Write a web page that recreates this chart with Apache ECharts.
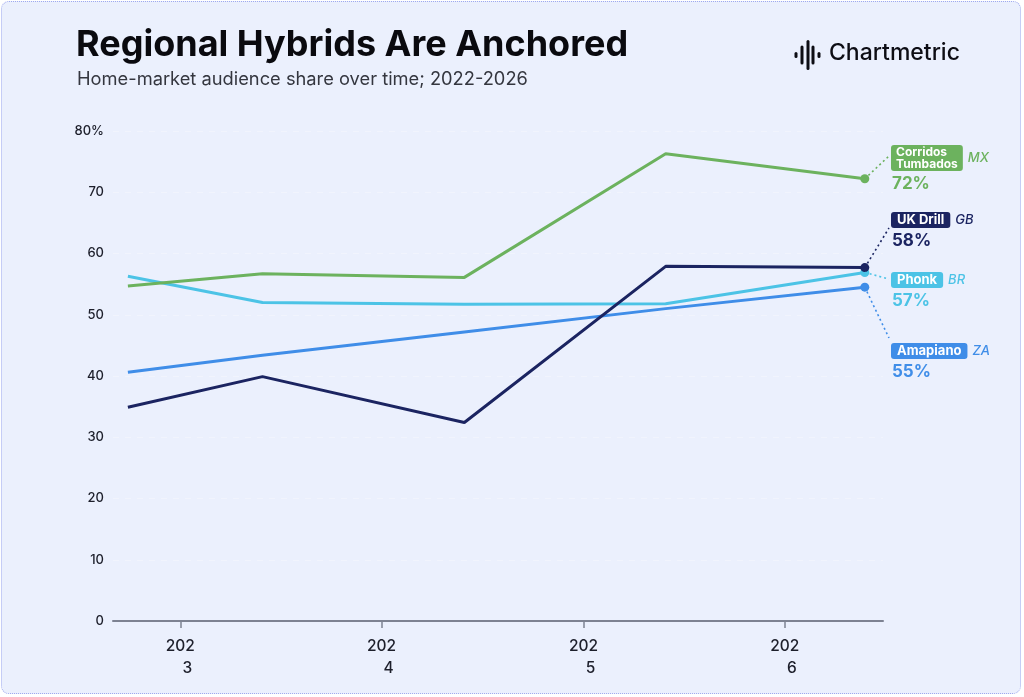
<!DOCTYPE html>
<html>
<head>
<meta charset="utf-8">
<script src="https://cdn.jsdelivr.net/npm/echarts@6/dist/echarts.min.js"></script>
<style>
html,body{margin:0;padding:0;background:#ffffff;}
#wrap{position:absolute;left:1px;top:1px;width:1020px;height:693px;background:#ebf0fd;border:1.5px dotted #9fa9ef;border-radius:8px;box-sizing:border-box;}
#chart{position:absolute;left:0;top:0;width:1024px;height:697px;}
</style>
</head>
<body>
<div id="wrap"></div>
<div id="chart"></div>
<script>
// ---- data ----
var dates = ['2022-09-28', '2023-05-30', '2024-05-30', '2025-05-30', '2026-05-26'];
var seriesNames = ['Corridos\nTumbados', 'UK Drill', 'Phonk', 'Amapiano'];
var countryCodes = ['MX', 'GB', 'BR', 'ZA'];
var corridosValues = [54.7, 56.7, 56.1, 76.3, 72.2];
var ukDrillValues = [34.9, 39.9, 32.4, 57.9, 57.7];
var phonkValues = [56.3, 52.0, 51.7, 51.8, 56.9];
var amapianoValues = [40.6, 43.4, 47.2, 51.0, 54.5];
var yTicks = [0, 10, 20, 30, 40, 50, 60, 70, 80];

var allValues = [corridosValues, ukDrillValues, phonkValues, amapianoValues];
var colors = ['#6cb25e', '#1b2461', '#4cc3e6', '#3f8de8'];
var labelTops = [145, 212, 272, 343];
var leaderEnds = [156, 228, 279, 338];

var FONT = 'Inter, "Noto Sans", sans-serif';
var chart = echarts.init(document.getElementById('chart'), null, {renderer: 'canvas'});

var series = allValues.map(function (vals, si) {
  return {
    name: seriesNames[si],
    type: 'line',
    data: vals.map(function (v, i) { return [dates[i], v]; }),
    lineStyle: {color: colors[si], width: 3},
    itemStyle: {color: colors[si]},
    symbol: 'circle',
    showSymbol: true,
    symbolSize: function (v, p) { return p.dataIndex === vals.length - 1 ? 9 : 0; },
    z: [3, 4, 2, 1][si],
    animation: false
  };
});

var option = {
  backgroundColor: 'transparent',
  animation: false,
  grid: {left: 113, right: 141, top: 131, bottom: 76, containLabel: false},
  xAxis: {
    type: 'time',
    min: '2022-09-01',
    max: '2026-06-28',
    splitNumber: 4,
    minInterval: 365 * 24 * 3600 * 1000,
    axisLine: {show: true, lineStyle: {color: '#7d8292', width: 2}},
    axisTick: {show: true, length: 7, lineStyle: {color: '#7d8292', width: 1.5}},
    splitLine: {show: false},
    axisLabel: {
      margin: 14,
      formatter: function (val) {
        var y = String(new Date(val).getFullYear());
        return '{a|' + y.slice(0, 3) + '}\n{b|' + y.slice(3) + '}';
      },
      rich: {
        a: {fontFamily: FONT, fontSize: 15.5, fontWeight: 500, color: '#1d1f2b', lineHeight: 22},
        b: {fontFamily: FONT, fontSize: 15.5, fontWeight: 500, color: '#1d1f2b', lineHeight: 22, padding: [0, 0, 0, 14]}
      }
    }
  },
  yAxis: {
    type: 'value',
    min: yTicks[0],
    max: yTicks[yTicks.length - 1],
    interval: 10,
    axisLine: {show: false},
    axisTick: {show: false},
    splitLine: {show: true, lineStyle: {color: 'rgba(255,255,255,0.3)', width: 1, type: [6, 6]}},
    axisLabel: {
      margin: 9,
      fontFamily: FONT, fontSize: 13, fontWeight: 500, color: '#1d1f2b',
      formatter: function (v) { return v === yTicks[yTicks.length - 1] ? v + '%' : String(v); }
    }
  },
  series: series
};
chart.setOption(option);

// ---- annotations ----
var ctx = document.createElement('canvas').getContext('2d');
function measure(text, font) {
  ctx.font = font;
  return Math.max.apply(null, text.split('\n').map(function (t) { return ctx.measureText(t).width; }));
}

var graphics = [];
// title
graphics.push({type: 'text', left: 76, top: 27, style: {text: 'Regional Hybrids Are Anchored', font: 'bold 36px ' + FONT, fill: '#0a0a0f'}});
graphics.push({type: 'text', left: 77, top: 71, style: {text: 'Home-market audience share over time; 2022-2026', font: '18.3px ' + FONT, fill: '#34363f'}});
// logo
var bars = [[796, 6], [802, 19], [808, 30], [813, 19], [819, 6]];
bars.forEach(function (b) {
  graphics.push({type: 'rect', shape: {x: b[0] - 1.5, y: 55 - b[1] / 2, width: 3, height: b[1], r: 1.5}, style: {fill: '#0d0d14'}});
});
graphics.push({type: 'text', left: 829, top: 42, style: {text: 'Chartmetric', font: '500 23px ' + FONT, fill: '#0d0d14'}});

var boxLeft = 891;
allValues.forEach(function (vals, si) {
  var last = vals.length - 1;
  var p = chart.convertToPixel({seriesIndex: si}, [dates[last], vals[last]]);
  var name = seriesNames[si];
  var lines = name.split('\n').length;
  var fs = lines > 1 ? 12 : 13;
  var lh = lines > 1 ? 11.5 : 13;
  var padX = lines > 1 ? 5 : 6;
  var boxFont = 'bold ' + fs + 'px ' + FONT;
  var w = measure(name, boxFont) + padX * 2;
  var top = labelTops[si];
  var h = lines * lh + 3;
  graphics.push({type: 'line', z: 5, shape: {x1: p[0], y1: p[1], x2: boxLeft - 2, y2: leaderEnds[si]},
    style: {stroke: colors[si], lineWidth: 1.6, lineDash: [2, 3]}});
  graphics.push({type: 'text', z: 6, x: boxLeft, y: top, style: {
    text: name, font: boxFont, fill: '#ffffff', lineHeight: lh,
    backgroundColor: colors[si], padding: [2, padX, 1, padX], borderRadius: 3,
    align: 'left', verticalAlign: 'top'}});
  graphics.push({type: 'text', z: 6, x: boxLeft + w + 5, y: top + h / 2, style: {
    text: countryCodes[si], font: 'italic 500 13px ' + FONT, fill: colors[si],
    align: 'left', verticalAlign: 'middle'}});
  graphics.push({type: 'text', z: 6, x: boxLeft + 1, y: top + h + 4, style: {
    text: Math.round(vals[last]) + '%', font: 'bold 17px ' + FONT, fill: colors[si],
    align: 'left', verticalAlign: 'top'}});
});
chart.setOption({graphic: graphics});
</script>
</body>
</html>
